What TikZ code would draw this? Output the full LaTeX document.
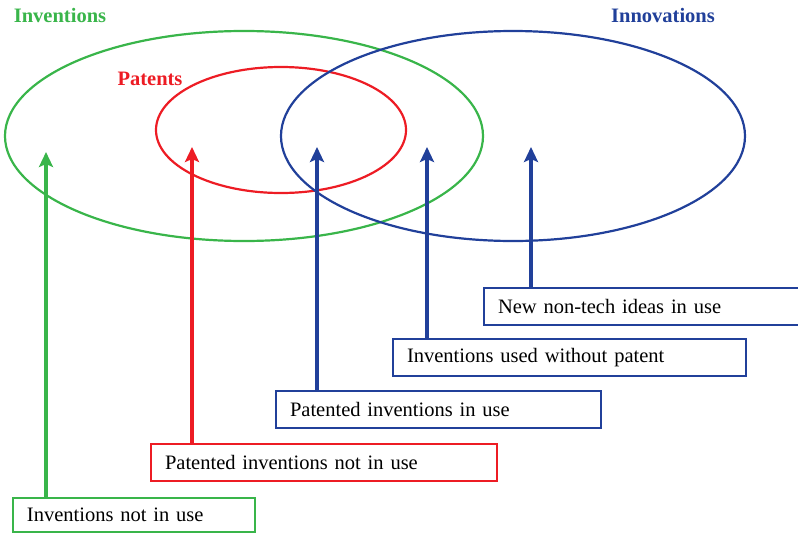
\documentclass[tikz,border=0pt]{standalone}
\usepackage{fontspec}
\setmainfont{Liberation Serif}
\usetikzlibrary{arrows.meta}
\definecolor{invgreen}{RGB}{57,181,74}
\definecolor{patred}{RGB}{237,28,36}
\definecolor{innblue}{RGB}{33,64,154}
\begin{document}
\begin{tikzpicture}[x=1pt,y=-1pt,
		set/.style={line width=2.2pt},
		title/.style={font=\fontsize{20.5}{24}\selectfont\bfseries},
		box/.style={draw,line width=2pt,anchor=north west,align=left,inner xsep=14pt,
			minimum height=37pt,font=\fontsize{20.5}{24}\selectfont},
		pointer/.style={line width=4pt,-{Stealth[length=15pt,width=14pt,inset=3pt]}}]
	\useasboundingbox (0,0) rectangle (798,533);
	\clip (0,0) rectangle (798,533);
	% the three sets
	\draw[set,invgreen] (244,136) ellipse (239 and 105);
	\draw[set,patred] (281,130) ellipse (125 and 63);
	\draw[set,innblue] (513,136) ellipse (232 and 105);
	
	\node[title,invgreen] (inv) at (60,15) {Inventions};
	\node[title,patred] (pat) at (150,79) {Patents};
	\node[title,innblue] (inn) at (663,15) {Innovations};
	
	% the boxes, from bottom to top
	\node[box,invgreen,text width=214pt,minimum height=34pt] (notused) at (12,497) {\color{black}Inventions not in use};
	\node[box,patred,text width=318pt] (patnotused) at (150,443) {\color{black}Patented inventions not in use};
	\node[box,innblue,text width=297pt] (patused) at (275,390) {\color{black}Patented inventions in use};
	\node[box,innblue,text width=325pt] (nopat) at (392,338) {\color{black}Inventions used without patent};
	\node[box,innblue,text width=300pt] (nontech) at (483,287) {\color{black}New non-tech ideas in use};
	
	% the arrows
	\coordinate (tipi) at (46,152);
	\coordinate (tipii) at (192,147);
	\coordinate (tipiii) at (317,147);
	\coordinate (tipiv) at (427,147);
	\coordinate (tipv) at (531,147);
	\draw[pointer,invgreen] (tipi |- notused.north) -- (tipi);
	\draw[pointer,patred] (tipii |- patnotused.north) -- (tipii);
	\draw[pointer,innblue] (tipiii |- patused.north) -- (tipiii);
	\draw[pointer,innblue] (tipiv |- nopat.north) -- (tipiv);
	\draw[pointer,innblue] (tipv |- nontech.north) -- (tipv);
\end{tikzpicture}
\end{document}
